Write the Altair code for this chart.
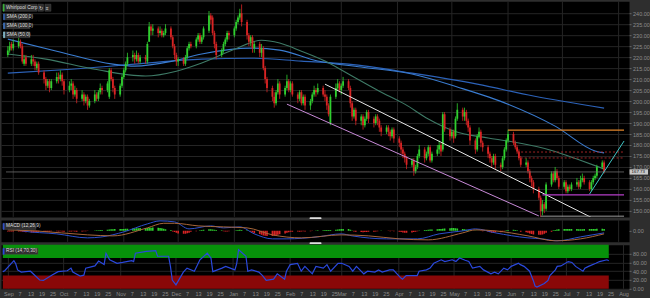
import altair as alt
import pandas as pd

# ---------------- data ----------------
opens = [221, 223, 226, 224, 225, 227, 225, 217, 220, 217,
         219, 218, 215, 217, 213, 210, 207, 209, 206, 209,
         211, 210, 212, 209, 205, 207, 208, 203, 205, 201,
         203, 200, 202, 198, 200, 203, 201, 204, 206, 205,
         202, 214, 210, 206, 203, 207, 211, 214, 217, 220,
         221, 219, 221, 218, 220, 218, 227, 234, 232, 233,
         231, 232, 230, 231, 233, 229, 225, 221, 218, 219,
         217, 220, 224, 226, 225, 228, 230, 227, 229, 232,
         239, 238, 231, 226, 221, 223, 226, 228, 231, 230,
         233, 236, 238, 240, 236, 230, 227, 229, 224, 226,
         222, 224, 215, 210, 206, 202, 199, 204, 208, 203,
         206, 209, 205, 208, 203, 201, 204, 199, 202, 198,
         200, 203, 205, 204, 206, 203, 202, 198, 190, 202,
         206, 208, 205, 207, 209, 206, 199, 193, 196, 191,
         193, 189, 192, 195, 192, 190, 193, 191, 188, 186,
         188, 186, 184, 187, 183, 181, 178, 176, 174, 171,
         173, 168, 170, 175, 178, 174, 176, 179, 173, 176,
         178, 180, 178, 194, 187, 184, 186, 184, 192, 196,
         193, 195, 191, 188, 182, 178, 184, 186, 181, 179,
         176, 174, 172, 175, 171, 170, 174, 178, 182, 185,
         181, 179, 177, 174, 171, 172, 168, 165, 163, 160,
         156, 150, 153, 151, 162, 167, 164, 168, 165, 161,
         163, 159, 161, 160, 162, 163, 161, 164, 165, 163,
         160, 163, 165, 166, 170, 172]
highs = [225, 227, 227, 228, 229, 228, 226, 221, 221, 221,
         221, 219, 218, 218, 214, 211, 210, 210, 210, 213,
         213, 214, 213, 210, 209, 210, 209, 207, 206, 205,
         204, 203, 203, 201, 205, 204, 205, 208, 207, 209,
         215, 215, 211, 207, 208, 212, 215, 218, 222, 223,
         222, 223, 222, 221, 221, 227, 236, 235, 235, 234,
         234, 233, 232, 235, 234, 230, 226, 222, 220, 220,
         221, 225, 227, 227, 229, 231, 231, 230, 234, 241,
         240, 239, 232, 227, 224, 227, 229, 232, 232, 234,
         237, 239, 242, 244, 237, 231, 230, 230, 227, 227,
         226, 225, 216, 211, 207, 204, 205, 210, 209, 207,
         212, 210, 209, 209, 204, 205, 205, 203, 203, 201,
         204, 207, 206, 208, 207, 205, 203, 199, 203, 208,
         210, 209, 208, 211, 210, 207, 200, 197, 197, 194,
         194, 193, 196, 196, 193, 194, 194, 192, 189, 189,
         189, 187, 188, 188, 184, 182, 179, 177, 175, 174,
         174, 171, 176, 180, 179, 177, 180, 180, 177, 180,
         182, 181, 195, 195, 188, 187, 187, 193, 199, 197,
         197, 196, 192, 189, 183, 185, 188, 187, 182, 180,
         177, 175, 176, 176, 172, 175, 179, 183, 187, 186,
         182, 180, 178, 175, 174, 173, 169, 166, 164, 161,
         157, 155, 154, 163, 168, 168, 170, 169, 166, 164,
         164, 162, 162, 163, 165, 164, 166, 167, 166, 164,
         164, 166, 167, 171, 173, 173]
lows = [220, 222, 223, 223, 224, 224, 217, 216, 216, 216,
        216, 214, 214, 212, 208, 205, 206, 204, 205, 208,
        208, 209, 207, 203, 204, 205, 201, 202, 199, 200,
        198, 199, 196, 197, 199, 200, 200, 203, 203, 204,
        201, 209, 204, 201, 202, 206, 210, 213, 216, 218,
        217, 218, 217, 217, 217, 217, 227, 230, 230, 229,
        230, 229, 229, 230, 228, 224, 219, 216, 216, 216,
        216, 219, 223, 224, 224, 227, 226, 226, 228, 231,
        235, 230, 224, 219, 220, 222, 225, 227, 228, 229,
        232, 235, 237, 234, 228, 225, 225, 222, 222, 220,
        220, 214, 208, 204, 200, 197, 198, 203, 201, 202,
        205, 204, 204, 202, 199, 200, 198, 198, 196, 196,
        199, 202, 202, 203, 202, 200, 196, 193, 189, 201,
        205, 204, 203, 206, 205, 197, 191, 192, 189, 189,
        187, 188, 191, 190, 188, 189, 189, 186, 184, 185,
        184, 182, 183, 181, 179, 176, 174, 172, 169, 170,
        166, 167, 169, 174, 172, 173, 175, 172, 172, 175,
        176, 175, 177, 186, 182, 183, 181, 183, 191, 191,
        191, 189, 186, 180, 176, 177, 183, 179, 177, 174,
        172, 170, 171, 169, 168, 169, 173, 177, 181, 180,
        178, 176, 173, 170, 170, 167, 163, 161, 158, 155,
        147, 148, 149, 150, 161, 163, 163, 164, 160, 160,
        158, 158, 159, 159, 161, 160, 160, 163, 162, 159,
        159, 162, 164, 165, 169, 167]
closes = [223, 225, 224, 226, 227, 225, 218, 219, 217, 219,
          218, 216, 217, 213, 210, 207, 209, 206, 209, 211,
          210, 212, 209, 205, 207, 208, 203, 205, 201, 203,
          200, 202, 198, 200, 203, 201, 204, 206, 205, 208,
          214, 210, 206, 203, 207, 211, 214, 217, 220, 221,
          219, 221, 218, 220, 219, 226, 234, 232, 233, 231,
          232, 230, 231, 233, 229, 225, 221, 218, 219, 217,
          220, 224, 226, 225, 228, 230, 227, 229, 233, 239,
          237, 231, 226, 221, 223, 226, 228, 231, 230, 233,
          236, 238, 240, 236, 230, 227, 229, 224, 226, 222,
          224, 215, 210, 206, 202, 199, 204, 208, 203, 206,
          209, 205, 208, 203, 201, 204, 199, 202, 198, 200,
          203, 205, 204, 206, 203, 202, 198, 194, 202, 206,
          208, 205, 207, 209, 206, 199, 193, 196, 191, 193,
          189, 192, 195, 192, 190, 193, 191, 188, 186, 188,
          186, 184, 187, 183, 181, 178, 176, 174, 171, 173,
          168, 170, 175, 178, 174, 176, 179, 173, 176, 178,
          180, 177, 194, 187, 184, 186, 183, 192, 196, 193,
          195, 191, 188, 182, 178, 184, 186, 181, 179, 176,
          174, 172, 175, 171, 170, 174, 178, 182, 185, 181,
          179, 177, 174, 171, 172, 168, 165, 163, 160, 156,
          150, 153, 151, 162, 167, 164, 168, 165, 161, 163,
          159, 161, 160, 162, 163, 161, 164, 165, 163, 160,
          163, 165, 166, 170, 172, 167.73]

# moving averages, sampled at trading-day indices
sma200_idx = [0, 25, 50, 77, 96, 116, 134, 159, 185, 208, 235]
sma200_val = [212.7, 214.5, 216.8, 219.1, 219.5, 218.2, 216.8, 212.7, 207.7, 202.3, 196.8]
sma100_idx = [0, 19, 42, 50, 65, 77, 96, 108, 123, 139, 159, 178, 198, 216, 232, 235]
sma100_val = [228.2, 222.7, 216.8, 215.9, 218.2, 221.4, 224.1, 223.2, 218.2, 215.5, 212.3, 206.4, 198.6, 188.6, 177.3, 176.4]
sma50_idx = [0, 15, 34, 54, 67, 77, 89, 100, 108, 116, 125, 134, 147, 157, 166, 176, 189, 198, 215, 224, 235]
sma50_val = [221.4, 219.1, 214.5, 211.4, 213.6, 217.3, 223.6, 227.7, 226.4, 222.7, 218.2, 212.3, 204.5, 198.6, 191.8, 186.4, 183.2, 181.8, 177.3, 173.6, 169.1]

# MACD (12,26,9)
macd_idx = [0, 6, 19, 32, 38, 46, 55, 60, 66, 72, 80, 85, 92, 98, 104, 110, 123, 132, 136, 149, 162, 170, 179, 184, 193, 205, 211, 217, 226, 235]
macd_val = [3.5, 0, -1.5, -3.5, -3, -0.5, 3.5, 5, 4.5, 1, 2.5, 1.5, 2, -1.5, -4, -4, -3, -1.5, -2.5, -4, -4, -1.5, 0, 1, -1, -3.5, -4, -5, -3, -1]
signal_idx = [0, 11, 32, 42, 55, 62, 66, 75, 85, 94, 104, 116, 132, 143, 154, 166, 179, 184, 193, 205, 216, 226, 235]
signal_val = [0.5, 0, -2, -2.5, 1.5, 3.8, 3.8, 2.5, 2, 1.5, -2, -3.5, -2, -2.5, -4, -4.5, -1, 0.5, 0, -2.5, -5, -4, -1.5]
macd_hist = [-0.3, -0.3, -0.3, -0.3, -0.3, -0.3,
             -0.5, -0.6, -0.7, -0.8, -0.8, -0.7, -0.6, -0.5, -0.5, -0.6, -0.5, -0.4,
             -0.2, -0.2,
             -0.3, -0.2, -0.3, -0.4, -0.3, -0.3, -0.2, -0.3, -0.4, -0.3, -0.2, -0.2, -0.1,
             0.1,
             0.2, 0.3, 0.3, 0.4, 0.5, 0.6, 0.7, 0.8, 0.8, 0.9, 0.9, 1.0, 1.0, 1.1, 1.1, 1.2, 1.2,
             1.3, 1.3, 1.4, 1.4, 1.5, 1.6, 1.6, 1.7, 1.6, 1.5, 1.3, 1.1, 0.8, 0.5,
             -0.3, -0.6, -1.0, -1.3, -1.5, -1.4, -1.2, -0.9, -0.5,
             -0.2, 0.1, 0.3,
             0.5, 0.6, 0.8, 0.8, 0.7, 0.6, 0.5, 0.3,
             -0.2, -0.3, -0.3, -0.2, 0.1,
             0.3, 0.5, 0.6, 0.5, 0.3, 0.1,
             -0.4, -0.8, -1.2, -1.6, -2.0, -2.3, -2.5, -2.6, -2.6, -2.5, -2.3, -2.0, -1.7, -1.3, -1.0, -0.7, -0.5,
             -0.4, -0.3, -0.4, -0.3, -0.2, -0.3, -0.2, -0.1, 0.1,
             0.2, 0.3, 0.3, 0.4, 0.4, 0.5, 0.5, 0.6, 0.7, 0.8, 0.9, 1.0, 0.9, 0.6, 0.2,
             -0.3, -0.5, -0.6, -0.7, -0.6, -0.6, -0.5, -0.4, -0.3, -0.2,
             0.1, 0.2, 0.1, -0.1, -0.2, -0.1, -0.2,
             -0.4, -0.6, -0.8, -0.9, -0.9, -0.8, -0.6, -0.4, -0.2,
             0.2, 0.4, 0.5, 0.6, 0.7, 0.7, 0.8, 0.9, 1.0, 1.1, 1.2, 1.3, 1.4, 1.4, 1.3, 1.2, 1.0, 0.8, 0.6, 0.4,
             0.2, 0.2, 0.1, 0.1, -0.1, -0.2,
             -0.5, -0.7, -0.9, -0.9, -0.8, -0.7, -0.5, -0.2,
             0.3, 0.5, 0.6, 0.5, 0.3, 0.1,
             -0.4, -0.7, -1.0, -1.3, -1.6, -1.8, -2.0, -2.0, -1.8, -1.4, -1.0, -0.5,
             0.3, 0.5, 0.7, 0.8, 0.9, 0.9, 1.0, 1.0, 0.9, 0.9, 0.8, 0.8, 0.8, 0.9, 0.9, 1.0, 1.0, 1.0, 1.1, 1.1, 1.0]

# RSI
rsi_idx = [0, 1, 4, 5, 6, 8, 11, 14, 16, 19, 22, 25, 27, 28, 30, 32, 33, 36, 38, 39,
           40, 42, 44, 47, 50, 51, 52, 56, 59, 60, 64, 65, 66, 68, 70, 72, 74, 77, 79, 81,
           82, 85, 87, 90, 91, 92, 94, 95, 97, 99, 101, 103, 105, 107, 109, 110, 112, 114, 116, 118,
           120, 122, 124, 126, 128, 130, 132, 134, 136, 138, 140, 142, 144, 146, 148, 150, 152, 154, 155, 157,
           159, 161, 162, 164, 166, 168, 170, 172, 174, 176, 178, 179, 181, 183, 185, 187, 189, 191, 193, 194,
           196, 198, 200, 201, 203, 204, 206, 207, 208, 210, 212, 213, 214, 215, 217, 219, 221, 223, 225, 226,
           228, 230, 232, 234, 235]
rsi_val = [39, 41, 64, 57, 43, 38, 40, 20, 19, 32, 39, 41, 47, 38, 29, 31, 47, 52, 63, 55,
           81, 66, 58, 60, 64, 62, 81, 85, 87, 74, 74, 51, 20, 9, 38, 47, 40, 66, 81, 70,
           39, 47, 51, 43, 58, 89, 74, 40, 43, 38, 30, 19, 22, 34, 22, 40, 55, 58, 40, 51,
           34, 51, 47, 55, 40, 58, 58, 51, 40, 51, 34, 40, 38, 43, 38, 43, 43, 25, 22, 30,
           30, 30, 40, 43, 47, 58, 66, 62, 66, 62, 70, 65, 62, 47, 51, 43, 34, 38, 34, 47,
           43, 51, 58, 55, 51, 40, 19, 6, 4, 12, 19, 30, 43, 51, 52, 62, 60, 51, 40, 47,
           51, 58, 62, 66, 64]

last_price = 167.73
price_ticks = [150, 155, 160, 165, 170, 175, 180, 185, 190, 195, 200, 205, 210, 215, 220, 225, 230, 235, 240]
rsi_ticks = [0, 20, 40, 60, 80]
month_starts = ["2017-09-01", "2017-10-01", "2017-11-01", "2017-12-01", "2018-01-01", "2018-02-01",
                "2018-03-01", "2018-04-01", "2018-05-01", "2018-06-01", "2018-07-01", "2018-08-01"]
tick_days = [7, 13, 19, 25]
legend_rows = ["SMA (200,0)", "SMA (100,0)", "SMA (50,0)"]
legend_colors = ["#2c62b8", "#3a74c8", "#8ccbe0"]

# ---------------- frames ----------------
GREEN = "#2fcf2f"
RED = "#d82424"
GRID = "#252525"
LAB = "#8c8c8c"
FONT = "Liberation Sans"
PRICE_DOM = [147.27, 245.45]
W = 629

n = min(len(opens), len(highs), len(lows), len(closes), len(macd_hist))
dates = pd.bdate_range("2017-08-29", periods=n)
START = pd.Timestamp("2017-08-28")
END = pd.Timestamp("2018-08-04")

px = pd.DataFrame({"date": dates, "open": opens[:n], "high": highs[:n],
                   "low": lows[:n], "close": closes[:n]})
px["col"] = [GREEN if c >= o else RED for o, c in zip(px["open"], px["close"])]


def series(idx, vals):
    return pd.DataFrame({"date": [dates[i] for i in idx if i < n],
                         "v": [v for i, v in zip(idx, vals) if i < n]})


sma200 = series(sma200_idx, sma200_val)
sma100 = series(sma100_idx, sma100_val)
sma50 = series(sma50_idx, sma50_val)
macd_df = series(macd_idx, macd_val)
sig_df = series(signal_idx, signal_val)
rsi_df = series(rsi_idx, rsi_val)
hist_df = pd.DataFrame({"date": dates, "v": macd_hist[:n]})
hist_df["col"] = [GREEN if v >= 0 else RED for v in hist_df["v"]]

months = pd.DataFrame({"date": pd.to_datetime(month_starts)})

XDOM = [alt.DateTime(year=2017, month=8, date=28), alt.DateTime(year=2018, month=8, date=4)]

price_axis = alt.Axis(orient="right", values=price_ticks, format=".2f", labelFontSize=5.5,
                      labelColor=LAB, tickColor="#666666", tickSize=2, domain=False,
                      gridColor=GRID, labelPadding=1.5, labelFont=FONT, title=None)


def Xd(field):
    return alt.X(f"{field}:T", scale=alt.Scale(domain=XDOM), axis=None)


def Yp(field):
    return alt.Y(f"{field}:Q", scale=alt.Scale(domain=PRICE_DOM, nice=False, zero=False),
                 axis=price_axis)


dummy = pd.DataFrame({"a": [0]})

vgrid = alt.Chart(months).mark_rule(color=GRID, strokeWidth=1).encode(x=Xd("date"))

wicks = alt.Chart(px).mark_rule(strokeWidth=0.8, clip=True).encode(
    x=Xd("date"), y=Yp("low"), y2="high", color=alt.Color("col:N", scale=None))
bodies = alt.Chart(px).mark_bar(size=1.8, clip=True).encode(
    x=Xd("date"), y=Yp("open"), y2="close", color=alt.Color("col:N", scale=None))


def sma_line(df, color):
    return alt.Chart(df).mark_line(color=color, strokeWidth=1.1, interpolate="monotone", clip=True).encode(
        x=Xd("date"), y=Yp("v"))


def seg(d1, p1, d2, p2, color, width=1.0, dash=None):
    df = pd.DataFrame({"d1": [d1], "p1": [p1], "d2": [d2], "p2": [p2]})
    kw = dict(color=color, strokeWidth=width, clip=True)
    if dash:
        kw["strokeDash"] = dash
    return alt.Chart(df).mark_rule(**kw).encode(x=Xd("d1"), x2="d2", y=Yp("p1"), y2="p2")


lines = [
    seg(START, last_price, END, last_price, "#6e6e6e", 0.8),
    seg(dates[125], 207.7, dates[230], 147.0, "#e6e6e6", 1.0),
    seg(dates[110], 198.6, dates[209], 147.7, "#c88ad8", 1.0),
    seg(dates[198], 186.8, END, 186.8, "#e0852a", 1.2),
    seg(dates[201], 176.8, END, 176.8, "#b02828", 0.9, [2, 2]),
    seg(dates[203], 174.1, END, 174.1, "#b02828", 0.9, [2, 2]),
    seg(dates[211], 157.3, END, 157.3, "#b53ec8", 1.2),
    seg(dates[210], 147.6, END, 147.6, "#9a9a9a", 1.0),
    seg(dates[229], 157.7, END, 181.8, "#3ec6c6", 1.0),
]

# price tag on the axis strip
tag_df = pd.DataFrame({"p": [last_price], "p_hi": [last_price + 1.2], "p_lo": [last_price - 1.2],
                       "t": [f"{last_price:.2f}"]})
tag_box = alt.Chart(tag_df).mark_rect(color="#c9c9c9").encode(
    x=alt.value(W + 0.5), x2=alt.value(W + 19), y=Yp("p_hi"), y2="p_lo")
tag_txt = alt.Chart(tag_df).mark_text(align="left", baseline="middle", fontSize=4.4, font=FONT,
                                      color="#111111").encode(x=alt.value(W + 2.5), y=Yp("p"), text="t:N")


def box(x0, x1, y0, y1, fill="#2f2f2f", stroke="#4a4a4a"):
    return alt.Chart(dummy).mark_rect(color=fill, stroke=stroke, strokeWidth=0.5).encode(
        x=alt.value(x0), x2=alt.value(x1), y=alt.value(y0), y2=alt.value(y1))


def label(x, y, txt, size=4.8, color="#dddddd"):
    return alt.Chart(dummy).mark_text(align="left", baseline="middle", fontSize=size, font=FONT,
                                      color=color).encode(x=alt.value(x), y=alt.value(y), text=alt.value(txt))


legend_layers = [box(2, 36, 3, 10), box(2, 3.2, 3, 10, fill="#3ab03a", stroke="#3ab03a"),
                 label(5, 6.6, "Whirlpool Corp"),
                 box(37, 42.5, 3, 10), label(37.8, 6.6, "↻", 5),
                 box(44, 50, 3, 10), label(44.8, 6.6, "≡", 5)]
for k, (txt, col) in enumerate(zip(legend_rows, legend_colors)):
    y0 = 12.7 + 9 * k
    legend_layers += [box(2.5, 29, y0, y0 + 5.8), box(2.5, 3.7, y0, y0 + 5.8, fill=col, stroke=col),
                      label(5.5, y0 + 3, txt)]

price_chart = alt.layer(
    vgrid,
    sma_line(sma200, "#2c62b8"),
    sma_line(sma100, "#3a7cd0"),
    sma_line(sma50, "#3e7a66"),
    wicks, bodies,
    *lines,
    tag_box, tag_txt,
    *legend_layers,
).properties(width=W, height=216)

# ---------------- MACD ----------------
macd_axis = alt.Axis(orient="right", values=[0], format=".2f", labelFontSize=5.5, labelColor=LAB,
                     tickColor="#666666", tickSize=2, domain=False, grid=False, labelPadding=1.5,
                     labelFont=FONT, title=None)


def Ym(field):
    return alt.Y(f"{field}:Q", scale=alt.Scale(domain=[-5.5, 5.5], nice=False, zero=False), axis=macd_axis)


hist = alt.Chart(hist_df).mark_bar(size=1.6, clip=True).encode(
    x=Xd("date"), y=Ym("v"), y2=alt.datum(0), color=alt.Color("col:N", scale=None))
macd_line = alt.Chart(macd_df).mark_line(color="#2d50cc", strokeWidth=1, interpolate="monotone", clip=True).encode(
    x=Xd("date"), y=Ym("v"))
sig_line = alt.Chart(sig_df).mark_line(color="#a8663a", strokeWidth=1, interpolate="monotone", clip=True).encode(
    x=Xd("date"), y=Ym("v"))
handle1 = alt.Chart(dummy).mark_rect(color="#dddddd", cornerRadius=1).encode(
    x=alt.value(309), x2=alt.value(321), y=alt.value(-2.6), y2=alt.value(-0.8))

macd_chart = alt.layer(
    vgrid, hist, macd_line, sig_line, handle1,
    box(2, 35, 3.5, 9.5), box(2, 3.2, 3.5, 9.5, fill="#3050c8", stroke="#3050c8"),
    label(5, 6.5, "MACD (12,26,9)"),
).properties(width=W, height=22)

# ---------------- RSI ----------------
tick_vals = []
for ms in month_starts:
    t = pd.Timestamp(ms)
    tick_vals.append(alt.DateTime(year=t.year, month=t.month, date=1))
    for d in tick_days:
        td = t.replace(day=d)
        if td < END:
            tick_vals.append(alt.DateTime(year=td.year, month=td.month, date=d))

x_axis = alt.Axis(values=tick_vals, labelExpr="date(datum.value) == 1 ? timeFormat(datum.value, '%b') : '' + date(datum.value)",
                  labelFontSize=5.5, labelColor=LAB, ticks=False, domain=False, grid=False,
                  labelPadding=3, labelFont=FONT, labelOverlap=False, title=None)

rsi_axis = alt.Axis(orient="right", values=rsi_ticks, format=".2f", labelFontSize=5.5, labelColor=LAB,
                    tickColor="#666666", tickSize=2, domain=False, gridColor=GRID, labelPadding=1.5,
                    labelFont=FONT, title=None)


def Xr(field):
    return alt.X(f"{field}:T", scale=alt.Scale(domain=XDOM), axis=x_axis)


def Yr(field):
    return alt.Y(f"{field}:Q", scale=alt.Scale(domain=[0, 100], nice=False), axis=rsi_axis)


bands = pd.DataFrame({"d1": [dates[0], dates[0]], "d2": [dates[n - 1], dates[n - 1]],
                      "lo": [70, 0], "hi": [100, 30], "col": ["#07920a", "#8a0808"]})
band_layer = alt.Chart(bands).mark_rect(opacity=1).encode(
    x=Xr("d1"), x2="d2", y=Yr("lo"), y2="hi", color=alt.Color("col:N", scale=None))
rsi_line = alt.Chart(rsi_df).mark_line(color="#2a48dc", strokeWidth=1.2, clip=True).encode(
    x=Xr("date"), y=Yr("v"))
handle2 = alt.Chart(dummy).mark_rect(color="#dddddd", cornerRadius=1).encode(
    x=alt.value(309), x2=alt.value(321), y=alt.value(-2.6), y2=alt.value(-0.8))
vgrid_r = alt.Chart(months).mark_rule(color=GRID, strokeWidth=1).encode(x=Xr("date"))

rsi_chart = alt.layer(
    vgrid_r, band_layer, rsi_line, handle2,
    box(2, 37, 3.5, 9.5), box(2, 3.2, 3.5, 9.5, fill="#2a48dc", stroke="#2a48dc"),
    label(5, 6.5, "RSI (14,70,30)"),
).properties(width=W, height=44)

chart = alt.vconcat(price_chart, macd_chart, rsi_chart, spacing=3, bounds="flush").properties(
    background="#2e2e2e", padding=0
).configure_view(fill="#000000", stroke="transparent")

chart.save("out.html", embed_options={"renderer": "svg", "actions": False})
